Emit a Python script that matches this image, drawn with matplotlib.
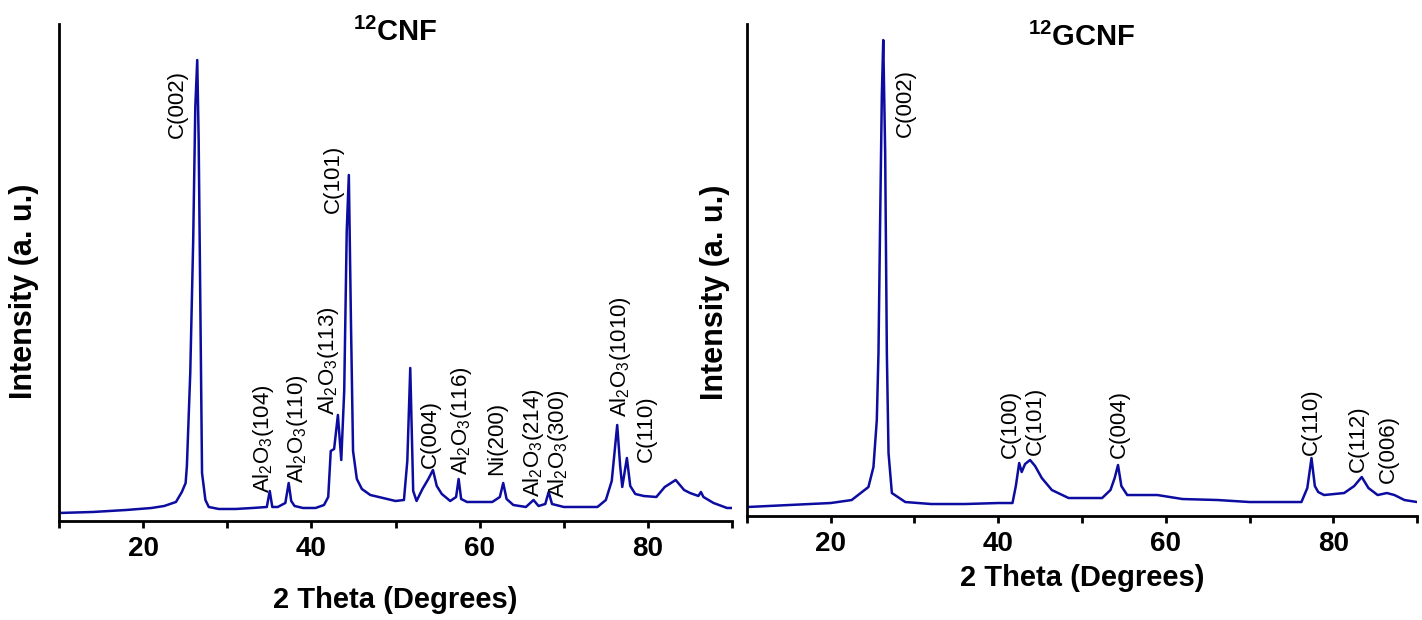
import matplotlib
matplotlib.use("Agg")
import matplotlib.pyplot as plt
from matplotlib.ticker import MultipleLocator

plt.rcParams["font.family"] = ["Liberation Sans", "DejaVu Sans"]
plt.rcParams["mathtext.default"] = "regular"

# 12CNF pattern (2 theta in degrees, intensity in arbitrary units)
cnf_theta = [10, 14, 18, 21, 22.5, 23.9, 24.6, 25.05, 25.2, 25.6, 25.95, 26.2, 26.43, 26.6, 26.8,
             27.0, 27.4, 27.8, 29, 31, 33, 34.7, 35.05, 35.35, 36, 36.9, 37.3, 37.6, 38, 39,
             40.5, 41.5, 42.0, 42.3, 42.7, 43.15, 43.55, 43.9, 44.2, 44.45, 44.7, 44.95, 45.4, 46,
             47, 48.5, 50, 51.0, 51.4, 51.75, 52.1, 52.5, 53.2, 53.9, 54.45, 54.9, 55.5, 56.5,
             57.2, 57.5, 57.8, 58.5, 60, 61.5, 62.4, 62.8, 63.2, 64, 65.5, 66.4, 67, 67.8, 68.2,
             68.6, 70, 72, 74, 75, 75.7, 76.35, 76.7, 76.95, 77.5, 77.9, 78.5, 79.5, 81, 82,
             83.3, 84.3, 85, 86, 86.3, 86.6, 87.8, 89.4, 90]
cnf_int = [8, 9, 11, 13, 15, 19, 29, 38, 55, 148, 281, 414, 461, 381, 214,
           48, 21, 14, 12, 12, 13, 14, 30, 14, 14, 18, 38, 20, 15, 13,
           13, 16, 24, 70, 72, 106, 61, 130, 290, 346, 200, 70, 42, 32,
           26, 23, 20, 21, 60, 153, 30, 20, 32, 42, 51, 35, 27, 20,
           24, 42, 22, 19, 19, 19, 24, 38, 22, 16, 14, 21, 15, 17, 29,
           17, 14, 14, 14, 21, 40, 96, 55, 34, 63, 35, 27, 25, 24, 34,
           41, 31, 28, 25, 29, 24, 18, 13, 13]

# 12GCNF pattern
gcnf_theta = [10, 15, 20, 22.5, 24.5, 25.1, 25.5, 25.7, 25.9, 26.1, 26.27, 26.5, 26.7, 26.9, 27.3,
              28.9, 32, 36, 40, 41.7, 42.1, 42.5, 42.8, 43.2, 43.8, 44.4, 45.2, 46.4, 48.4, 50.5,
              52.4, 53.4, 53.9, 54.3, 54.7, 55.4, 57, 59, 62, 66.2, 70, 74, 76.2, 76.9, 77.4,
              77.8, 78.2, 78.9, 81.3, 82.5, 83.4, 84.2, 85.3, 86.4, 87.3, 88.5, 90]
gcnf_int = [9, 11, 13, 16, 29, 49, 96, 163, 296, 420, 476, 363, 163, 63, 23,
            14, 12, 12, 13, 13, 30, 53, 44, 52, 56, 50, 38, 26, 18, 18,
            18, 26, 38, 51, 30, 21, 21, 21, 17, 16, 14, 14, 14, 28, 58,
            30, 24, 21, 23, 30, 39, 28, 21, 23, 21, 16, 14]

# peak labels: text, 2 theta, intensity at the start of the text
cnf_labels = ["C(002)", "Al$_2$O$_3$(104)", "Al$_2$O$_3$(110)", "Al$_2$O$_3$(113)", "C(101)",
              "C(004)", "Al$_2$O$_3$(116)", "Ni(200)", "Al$_2$O$_3$(214)", "Al$_2$O$_3$(300)",
              "Al$_2$O$_3$(1010)", "C(110)"]
cnf_label_x = [24.1, 34.3, 38.3, 42.0, 42.6, 54.2, 57.9, 62.0, 66.4, 69.4, 76.75, 79.8]
cnf_label_y = [383, 28, 38, 106, 308, 53, 46, 46, 24, 23, 104, 59]

gcnf_labels = ["C(002)", "C(100)", "C(101)", "C(004)", "C(110)", "C(112)", "C(006)"]
gcnf_label_x = [28.95, 41.4, 44.4, 54.5, 77.4, 83.0, 86.6]
gcnf_label_y = [379, 58, 61, 58, 61, 44, 33]

line_color = "#0c0ca0"

fig = plt.figure(figsize=(14.22, 6.2), dpi=100)
ax1 = fig.add_axes([0.0415, 0.1597, 0.4733, 0.8016])
ax2 = fig.add_axes([0.5253, 0.1677, 0.4712, 0.7935])


def style(ax, ymax):
    ax.set_xlim(10, 90)
    ax.set_ylim(0, ymax)
    for s in ("top", "right"):
        ax.spines[s].set_visible(False)
    for s in ("left", "bottom"):
        ax.spines[s].set_linewidth(2.0)
    ax.xaxis.set_major_locator(MultipleLocator(20))
    ax.xaxis.set_minor_locator(MultipleLocator(10))
    ax.tick_params(axis="x", which="both", direction="out", length=5, width=2.0, pad=6)
    ax.tick_params(axis="x", labelsize=20)
    ax.set_yticks([])
    for lab in ax.get_xticklabels():
        lab.set_fontweight("bold")


ax1.plot(cnf_theta, cnf_int, color=line_color, lw=1.8)
style(ax1, 497)
for t, x, y in zip(cnf_labels, cnf_label_x, cnf_label_y):
    ax1.text(x, y, t, rotation=90, ha="center", va="bottom", fontsize=16)
ax1.text(0.5, 0.984, "$^{12}$CNF", transform=ax1.transAxes, ha="center", va="center",
         fontsize=21, fontweight="bold")
ax1.set_xlabel("2 Theta (Degrees)", fontsize=21, fontweight="bold")
ax1.xaxis.set_label_coords(0.5, -0.131)
ax1.set_ylabel("Intensity (a. u.)", fontsize=22, fontweight="bold")
ax1.yaxis.set_label_coords(-0.030, 0.463)

ax2.plot(gcnf_theta, gcnf_int, color=line_color, lw=1.8)
style(ax2, 492)
for t, x, y in zip(gcnf_labels, gcnf_label_x, gcnf_label_y):
    ax2.text(x, y, t, rotation=90, ha="center", va="bottom", fontsize=16)
ax2.text(0.5, 0.9726, "$^{12}$GCNF", transform=ax2.transAxes, ha="center", va="center",
         fontsize=21, fontweight="bold")
ax2.set_xlabel("2 Theta (Degrees)", fontsize=21, fontweight="bold")
ax2.xaxis.set_label_coords(0.5, -0.0976)
ax2.set_ylabel("Intensity (a. u.)", fontsize=22, fontweight="bold")
ax2.yaxis.set_label_coords(-0.025, 0.455)

fig.savefig("out.png", dpi=100)
